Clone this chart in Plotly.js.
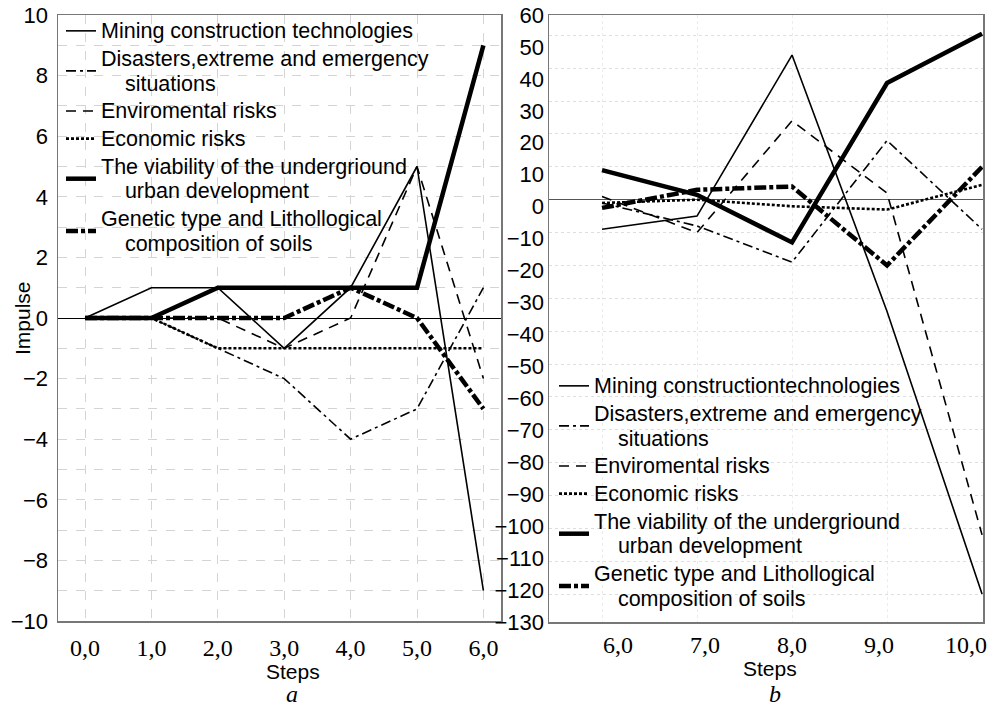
<!DOCTYPE html>
<html><head><meta charset="utf-8">
<script src="https://cdn.plot.ly/plotly-3.0.1.min.js"></script>
<style>html,body{margin:0;padding:0;background:#fff}#chart{width:992px;height:707px}</style>
</head><body><div id="chart"></div>
<script>
// ---- data: panel a ----
const stepsA = [0, 1, 2, 3, 4, 5, 6];
const tickTextA = ['0,0', '1,0', '2,0', '3,0', '4,0', '5,0', '6,0'];
const miningA    = [0, 1, 1, -1, 1, 5, -9];
const disastersA = [0, 0, -1, -2, -4, -3, 1];
const enviroA    = [0, 0, 0, -1, 0, 5, -2];
const economicA  = [0, 0, -1, -1, -1, -1, -1];
const viabilityA = [0, 0, 1, 1, 1, 1, 9];
const geneticA   = [0, 0, 0, 0, 1, 0, -3];
const yTicksA = [10, 8, 6, 4, 2, 0, -2, -4, -6, -8, -10];

// ---- data: panel b ----
const stepsB = [6, 7, 8, 9, 10];
const tickTextB = ['6,0', '7,0', '8,0', '9,0', '10,0'];
const miningB    = [-9, -5, 44, -34, -120];
const disastersB = [-1, -8, -19, 18, -9];
const enviroB    = [1, -10, 24, 2, -102];
const economicB  = [-1, 0, -2, -3, 4.5];
const viabilityB = [9, 1.5, -13, 35.5, 50.5];
const geneticB   = [-2.5, 3, 4, -20, 10];
const yTicksB = [60, 50, 40, 30, 20, 10, 0, -10, -20, -30, -40, -50, -60, -70, -80, -90, -100, -110, -120, -130];

// legend labels (each line listed separately)
const labelLinesA = [
  ['Mining construction technologies'],
  ['Disasters,extreme and emergency', '\u00a0\u00a0\u00a0\u00a0situations'],
  ['Enviromental risks'],
  ['Economic risks'],
  ['The viability of the undergriound', '\u00a0\u00a0\u00a0\u00a0urban development'],
  ['Genetic type and Lithollogical', '\u00a0\u00a0\u00a0\u00a0composition of soils']
];
const labelLinesB = [['Mining constructiontechnologies']].concat(labelLinesA.slice(1));

const txtSize = 21.5;
const fmtName = lines => lines.map(l => '<span style="font-size:' + txtSize + 'px">' + l + '</span>').join('<br>');

const styles = [
  {color: '#000', width: 1.6, dash: 'solid'},
  {color: '#000', width: 1.6, dash: '10px,4px,3px,4px'},
  {color: '#000', width: 1.6, dash: '10px,7px'},
  {color: '#000', width: 2.6, dash: '3px,2px'},
  {color: '#000', width: 4.5, dash: 'solid'},
  {color: '#000', width: 4.5, dash: '12px,3px,4px,3px'}
];

const seriesA = [miningA, disastersA, enviroA, economicA, viabilityA, geneticA];
const seriesB = [miningB, disastersB, enviroB, economicB, viabilityB, geneticB];

const traces = [];
seriesA.forEach((ys, i) => traces.push({
  type: 'scatter', mode: 'lines', x: stepsA, y: ys, name: fmtName(labelLinesA[i]),
  xaxis: 'x', yaxis: 'y', legend: 'legend', line: styles[i], hoverinfo: 'skip'
}));
seriesB.forEach((ys, i) => traces.push({
  type: 'scatter', mode: 'lines', x: stepsB, y: ys, name: fmtName(labelLinesB[i]),
  xaxis: 'x2', yaxis: 'y2', legend: 'legend2', line: styles[i], hoverinfo: 'skip'
}));
// empty trace to carry the label-only axes of panel b
traces.push({type: 'scatter', mode: 'lines', x: [], y: [], xaxis: 'x3', yaxis: 'y3', showlegend: false, hoverinfo: 'skip'});

const W = 992, H = 707;
const px = v => v / W, py = v => 1 - v / H;
const sans = 'Liberation Sans, Arial, sans-serif';
const serif = 'Liberation Serif, Times New Roman, serif';
const lineCol = '#777';
const gridCol = '#d4d4d4';

const layout = {
  width: W, height: H,
  margin: {l: 0, r: 0, t: 0, b: 0},
  paper_bgcolor: '#fff', plot_bgcolor: 'rgba(0,0,0,0)',
  showlegend: true,
  font: {family: sans, color: '#000'},
  xaxis: {
    domain: [px(58), px(501)], anchor: 'y', range: [-0.407, 6.265],
    tickvals: stepsA, ticktext: tickTextA, ticks: '', ticklabelstandoff: 5,
    tickfont: {family: serif, size: 24, color: '#000'},
    showgrid: true, gridcolor: gridCol, griddash: 'dash', gridwidth: 1,
    showline: true, linecolor: lineCol, linewidth: 1.5, mirror: true,
    zeroline: false
  },
  yaxis: {
    domain: [py(621), py(15)], anchor: 'x', range: [-10, 10],
    tickvals: yTicksA, ticks: '', ticklabelstandoff: 4,
    tickfont: {family: sans, size: 22, color: '#000'},
    showgrid: true, gridcolor: gridCol, griddash: 'dash', gridwidth: 1,
    minor: {dtick: 1, showgrid: true, gridcolor: gridCol, griddash: 'dash', gridwidth: 1},
    showline: true, linecolor: lineCol, linewidth: 1.5, mirror: true,
    zeroline: true, zerolinecolor: '#000', zerolinewidth: 1
  },
  xaxis2: {
    domain: [px(549), px(983)], anchor: 'y2', range: [5.442, 10.01],
    showticklabels: false, ticks: '',
    tickvals: stepsB,
    showgrid: true, gridcolor: '#ececec', griddash: 'dot', gridwidth: 1,
    showline: true, linecolor: lineCol, linewidth: 1.5, mirror: true,
    zeroline: false
  },
  yaxis2: {
    domain: [py(622), py(15)], anchor: 'x2', range: [-128.5, 56.2],
    showticklabels: false, ticks: '', dtick: 10,
    showgrid: true, gridcolor: '#dedede', griddash: 'dot', gridwidth: 1,
    showline: true, linecolor: lineCol, linewidth: 1.5, mirror: true,
    zeroline: true, zerolinecolor: '#555', zerolinewidth: 1
  },
  xaxis3: {
    overlaying: 'x2', anchor: 'y2', side: 'bottom', range: [5.207, 10.195],
    tickvals: stepsB, ticktext: tickTextB, ticks: '', ticklabelstandoff: 6,
    tickfont: {family: serif, size: 24, color: '#000'},
    showgrid: false, showline: false, zeroline: false
  },
  yaxis3: {
    overlaying: 'y2', anchor: 'x2', side: 'left', range: [-130, 60],
    tickvals: yTicksB, ticks: '', ticklabelstandoff: 4,
    tickfont: {family: sans, size: 22, color: '#000'},
    showgrid: false, showline: false, zeroline: false
  },
  legend: {
    x: px(61), y: py(12), xanchor: 'left', yanchor: 'top',
    bgcolor: 'rgba(0,0,0,0)', borderwidth: 0,
    font: {family: sans, size: 19, color: '#000'},
    tracegroupgap: 0, itemwidth: 30
  },
  legend2: {
    x: px(554), y: py(367), xanchor: 'left', yanchor: 'top',
    bgcolor: 'rgba(0,0,0,0)', borderwidth: 0,
    font: {family: sans, size: 19, color: '#000'},
    tracegroupgap: 0, itemwidth: 30
  },
  annotations: [
    {text: 'Steps', xref: 'paper', yref: 'paper', x: px(293), y: py(671), showarrow: false,
     font: {family: sans, size: 21}, xanchor: 'center', yanchor: 'middle'},
    {text: 'Steps', xref: 'paper', yref: 'paper', x: px(770), y: py(668), showarrow: false,
     font: {family: sans, size: 21}, xanchor: 'center', yanchor: 'middle'},
    {text: 'Impulse', xref: 'paper', yref: 'paper', x: px(22), y: py(318), showarrow: false,
     textangle: -90, font: {family: sans, size: 21}, xanchor: 'center', yanchor: 'middle'},
    {text: '<i>a</i>', xref: 'paper', yref: 'paper', x: px(292), y: py(694), showarrow: false,
     font: {family: serif, size: 24}, xanchor: 'center', yanchor: 'middle'},
    {text: '<i>b</i>', xref: 'paper', yref: 'paper', x: px(775), y: py(694), showarrow: false,
     font: {family: serif, size: 24}, xanchor: 'center', yanchor: 'middle'}
  ],
  separators: ', '
};

Plotly.newPlot('chart', traces, layout, {staticPlot: true, displayModeBar: false});
</script>
</body></html>
